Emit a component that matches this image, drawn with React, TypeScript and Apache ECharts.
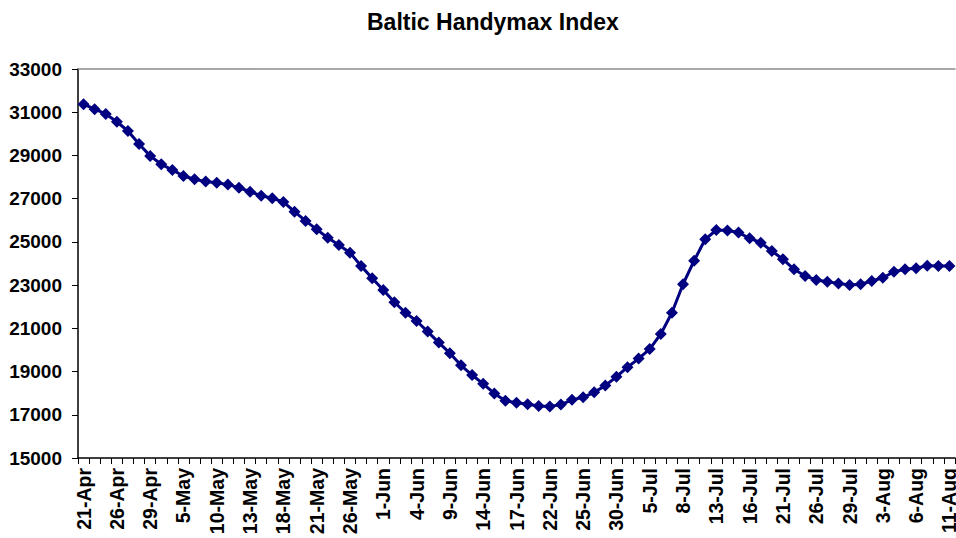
import React, { useEffect, useRef } from "react";
import * as echarts from "echarts";

const apr = [21, 22, 23, 26, 27, 28, 29, 30];
const may = [4, 5, 6, 7, 10, 11, 12, 13, 14, 17, 18, 19, 20, 21, 24, 25, 26, 27, 28];
const jun = [1, 2, 3, 4, 7, 8, 9, 10, 11, 14, 15, 16, 17, 18, 21, 22, 23, 24, 25, 28, 29, 30];
const jul = [1, 2, 5, 6, 7, 8, 9, 12, 13, 14, 15, 16, 19, 20, 21, 22, 23, 26, 27, 28, 29, 30];
const aug = [2, 3, 4, 5, 6, 9, 10, 11];

const categories: string[] = [
  ...apr.map((d) => `${d}-Apr`),
  ...may.map((d) => `${d}-May`),
  ...jun.map((d) => `${d}-Jun`),
  ...jul.map((d) => `${d}-Jul`),
  ...aug.map((d) => `${d}-Aug`),
];

const indexValues = [
  31370, 31140, 30920, 30560, 30130, 29530, 28980, 28590, 28330, 28050,
  27900, 27790, 27740, 27650, 27510, 27320, 27140, 27020, 26850, 26400,
  25970, 25580, 25190, 24860, 24500, 23890, 23320, 22770, 22210, 21720,
  21340, 20850, 20340, 19850, 19290, 18840, 18430, 17990, 17650, 17560,
  17490, 17410, 17380, 17470, 17690, 17810, 18040, 18350, 18760, 19200,
  19600, 20040, 20740, 21720, 23040, 24130, 25120, 25550, 25530, 25430,
  25170, 24960, 24580, 24200, 23730, 23420, 23240, 23160, 23080, 23010,
  23040, 23190, 23340, 23620, 23730, 23780, 23900, 23890, 23890,
];

const yMin = 15000;
const yMax = 33000;
const yStep = 2000;

export default function App() {
  const ref = useRef<HTMLDivElement>(null);
  useEffect(() => {
    if (!ref.current) return;
    const chart = echarts.init(ref.current, null, { renderer: "svg" });
    const font = "Arial, 'Liberation Sans', sans-serif";
    chart.setOption({
      animation: false,
      backgroundColor: "#ffffff",
      title: {
        text: "Baltic Handymax Index",
        left: 362,
        top: 5,
        textStyle: { fontFamily: font, fontWeight: "bold", fontSize: 23, color: "#000" },
      },
      grid: { left: 78, right: 1, top: 69, bottom: 80, containLabel: false, outerBoundsMode: "none" },
      xAxis: [
        {
          type: "category",
          data: categories,
          boundaryGap: true,
          axisLine: { show: true, lineStyle: { color: "#000", width: 1.5 } },
          axisTick: { show: true, interval: 0, length: 6, lineStyle: { color: "#000", width: 1 } },
          axisLabel: {
            interval: 2,
            rotate: 90,
            margin: 10,
            fontFamily: font,
            fontWeight: "bold",
            fontSize: 19.5,
            color: "#000",
          },
          splitLine: { show: false },
        },
        {
          type: "category",
          data: categories,
          position: "top",
          axisLine: { show: true, lineStyle: { color: "#8c8c8c", width: 1.5 } },
          axisTick: { show: false },
          axisLabel: { show: false },
          splitLine: { show: false },
        },
      ],
      yAxis: {
        type: "value",
        min: yMin,
        max: yMax,
        interval: yStep,
        axisLine: { show: true, lineStyle: { color: "#000", width: 1.5 } },
        axisTick: { show: true, length: 6, lineStyle: { color: "#000", width: 1 } },
        axisLabel: {
          margin: 16,
          fontFamily: font,
          fontWeight: "bold",
          fontSize: 19,
          color: "#000",
          formatter: (v: number) => String(v),
        },
        splitLine: { show: false },
      },
      series: [
        {
          type: "line",
          data: indexValues,
          xAxisIndex: 0,
          symbol: "diamond",
          symbolSize: 12,
          showAllSymbol: true,
          lineStyle: { color: "#000080", width: 3 },
          itemStyle: { color: "#000080" },
        },
      ],
    });
    return () => chart.dispose();
  }, []);
  return (
    <div
      ref={ref}
      style={{ position: "fixed", left: 0, top: 0, width: 956, height: 538 }}
    />
  );
}
